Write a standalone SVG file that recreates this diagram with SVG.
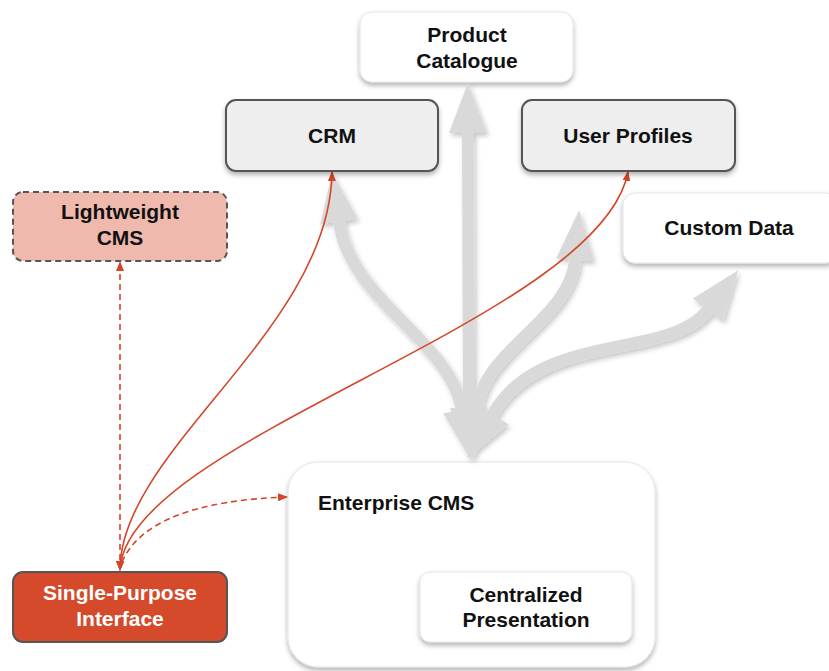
<svg xmlns="http://www.w3.org/2000/svg" width="829" height="671" viewBox="0 0 829 671">
<style>
  .t{font-family:"Liberation Sans",Arial,sans-serif;font-weight:bold;font-size:21px;fill:#111;text-anchor:middle}
  .tw{fill:#fff}
  .white{fill:#fff;stroke:#e4e4e4;stroke-width:1}
  .grey{fill:#eeeeee;stroke:#555;stroke-width:2}
  .gray-arrow{fill:none;stroke:#d9d9d9;stroke-width:12}
  .red{fill:none;stroke:#d4462a;stroke-width:1.6}
  .dash{stroke-dasharray:6 4}
</style>
<defs>
  <filter id="sh" x="-20%" y="-20%" width="140%" height="150%">
    <feDropShadow dx="0" dy="3" stdDeviation="2.5" flood-color="#000" flood-opacity="0.3"/>
  </filter>
  <filter id="sh2" x="-20%" y="-20%" width="140%" height="150%">
    <feDropShadow dx="2" dy="3" stdDeviation="2.5" flood-color="#000" flood-opacity="0.22"/>
  </filter>
  <marker id="big" viewBox="0 0 50 38" refX="0" refY="19" markerWidth="50" markerHeight="38" markerUnits="userSpaceOnUse" orient="auto-start-reverse">
    <path d="M0,0 L50,19 L0,38 z" fill="#d9d9d9"/>
  </marker>
  <marker id="ra" viewBox="0 0 10 8" refX="9" refY="4" markerWidth="10" markerHeight="8" markerUnits="userSpaceOnUse" orient="auto-start-reverse">
    <path d="M0,0 L10,4 L0,8 z" fill="#d4462a"/>
  </marker>
</defs>

<g id="node-enterprise-cms">
  <rect x="288" y="462" width="367" height="205" rx="30" class="white" filter="url(#sh)"/>
  <text x="318" y="510" class="t" style="text-anchor:start">Enterprise CMS</text>
</g>
<g id="node-centralized-presentation">
  <rect x="420" y="572" width="212" height="70" rx="10" class="white" filter="url(#sh)"/>
  <text x="526" y="601.5" class="t">Centralized</text>
  <text x="526" y="627" class="t">Presentation</text>
</g>
<g id="node-product-catalogue">
  <rect x="360" y="12" width="213" height="70" rx="12" class="white" filter="url(#sh)"/>
  <text x="467" y="41.5" class="t">Product</text>
  <text x="467" y="67.5" class="t">Catalogue</text>
</g>
<g id="node-custom-data">
  <rect x="623" y="193" width="215" height="70" rx="12" class="white" filter="url(#sh)"/>
  <text x="729" y="235" class="t">Custom Data</text>
</g>

<g id="connectors">
  <g filter="url(#sh2)">
    <path class="gray-arrow" d="M468,133 L469,408" marker-start="url(#big)" marker-end="url(#big)"/>
    <path class="gray-arrow" d="M339,222 C350,300 450,340 462,410" marker-start="url(#big)" marker-end="url(#big)"/>
    <path class="gray-arrow" d="M575,260 C570,320 482,350 477,410" marker-start="url(#big)" marker-end="url(#big)"/>
    <path class="gray-arrow" d="M708,310 C670,360 540,330 492,415" marker-start="url(#big)" marker-end="url(#big)"/>
  </g>
  <path class="red" d="M120,570 C120,450 330,330 332,172" marker-start="url(#ra)" marker-end="url(#ra)"/>
  <path class="red" d="M120,570 C125,440 600,320 628,172" marker-start="url(#ra)" marker-end="url(#ra)"/>
  <path class="red dash" d="M120,570 L120,262" marker-start="url(#ra)" marker-end="url(#ra)"/>
  <path class="red dash" d="M122,562 C140,520 200,500 287,497" marker-end="url(#ra)"/>
</g>

<g id="node-crm">
  <rect x="226" y="100" width="212" height="71" rx="10" class="grey" filter="url(#sh)"/>
  <text x="332" y="143.3" class="t">CRM</text>
</g>
<g id="node-user-profiles">
  <rect x="522" y="100" width="213" height="71" rx="10" class="grey" filter="url(#sh)"/>
  <text x="628" y="143.3" class="t">User Profiles</text>
</g>
<g id="node-lightweight-cms">
  <rect x="13" y="192" width="214" height="69" rx="10" fill="#f0b9ae" stroke="#555" stroke-width="2" stroke-dasharray="6 4"/>
  <text x="120" y="219.3" class="t">Lightweight</text>
  <text x="120" y="245" class="t">CMS</text>
</g>
<g id="node-single-purpose-interface">
  <rect x="13" y="572" width="214" height="70" rx="10" fill="#d44a2a" stroke="#555" stroke-width="2"/>
  <text x="120" y="600" class="t tw">Single-Purpose</text>
  <text x="120" y="626" class="t tw">Interface</text>
</g>
</svg>
